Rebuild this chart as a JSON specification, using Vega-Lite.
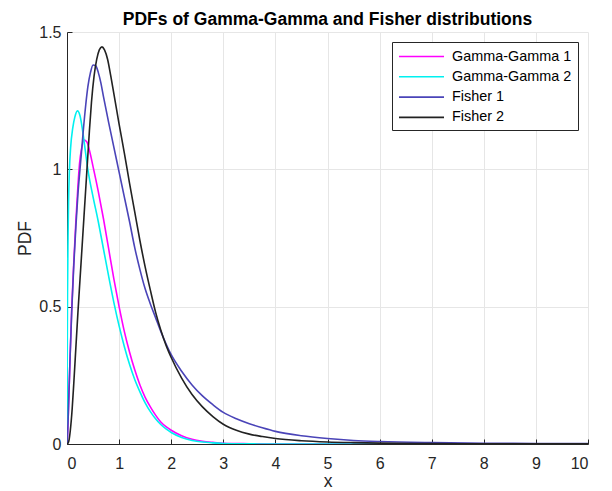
{
  "$schema": "https://vega.github.io/schema/vega-lite/v6.json",
  "width": 521,
  "height": 412,
  "autosize": {"type": "none"},
  "padding": {"left": 67, "top": 32, "right": 24, "bottom": 47},
  "background": "white",
  "title": {
    "text": "PDFs of Gamma-Gamma and Fisher distributions",
    "font": "Liberation Sans",
    "fontSize": 17.5,
    "fontWeight": "bold",
    "color": "#000000",
    "anchor": "middle",
    "offset": -4
  },
  "config": {
    "view": {"stroke": null},
    "font": "Liberation Sans",
    "axis": {
      "labelFont": "Liberation Sans",
      "labelFontSize": 16,
      "labelColor": "#262626",
      "titleFont": "Liberation Sans",
      "titleFontSize": 17.5,
      "titleFontWeight": "normal",
      "titleColor": "#262626",
      "domainColor": "#262626",
      "tickColor": "#262626",
      "tickSize": -5,
      "gridColor": "#e6e6e6",
      "gridWidth": 1
    },
    "legend": {
      "title": null,
      "orient": "top-right",
      "offset": 10,
      "symbolType": "M-1,0H5",
      "symbolSize": 225,
      "labelFont": "Liberation Sans",
      "labelFontSize": 14.4,
      "labelColor": "#000000",
      "labelOffset": 37,
      "rowPadding": 5.3,
      "padding": 6,
      "strokeColor": "#262626",
      "fillColor": "#ffffff"
    }
  },
  "data": {
    "values": [
      {"series": "Gamma-Gamma 1", "x": 0, "pdf": 0},
      {"series": "Gamma-Gamma 1", "x": 0.01, "pdf": 0.03},
      {"series": "Gamma-Gamma 1", "x": 0.02, "pdf": 0.08},
      {"series": "Gamma-Gamma 1", "x": 0.03, "pdf": 0.14},
      {"series": "Gamma-Gamma 1", "x": 0.045, "pdf": 0.23},
      {"series": "Gamma-Gamma 1", "x": 0.06, "pdf": 0.32},
      {"series": "Gamma-Gamma 1", "x": 0.09, "pdf": 0.49},
      {"series": "Gamma-Gamma 1", "x": 0.13, "pdf": 0.66},
      {"series": "Gamma-Gamma 1", "x": 0.17, "pdf": 0.81},
      {"series": "Gamma-Gamma 1", "x": 0.21, "pdf": 0.94},
      {"series": "Gamma-Gamma 1", "x": 0.24, "pdf": 1.02},
      {"series": "Gamma-Gamma 1", "x": 0.28, "pdf": 1.075},
      {"series": "Gamma-Gamma 1", "x": 0.33, "pdf": 1.107},
      {"series": "Gamma-Gamma 1", "x": 0.38, "pdf": 1.1},
      {"series": "Gamma-Gamma 1", "x": 0.43, "pdf": 1.07},
      {"series": "Gamma-Gamma 1", "x": 0.5, "pdf": 1.01},
      {"series": "Gamma-Gamma 1", "x": 0.6, "pdf": 0.92},
      {"series": "Gamma-Gamma 1", "x": 0.7, "pdf": 0.82},
      {"series": "Gamma-Gamma 1", "x": 0.8, "pdf": 0.71},
      {"series": "Gamma-Gamma 1", "x": 0.9, "pdf": 0.6},
      {"series": "Gamma-Gamma 1", "x": 1.0, "pdf": 0.5},
      {"series": "Gamma-Gamma 1", "x": 1.1, "pdf": 0.41},
      {"series": "Gamma-Gamma 1", "x": 1.2, "pdf": 0.335},
      {"series": "Gamma-Gamma 1", "x": 1.3, "pdf": 0.27},
      {"series": "Gamma-Gamma 1", "x": 1.4, "pdf": 0.215},
      {"series": "Gamma-Gamma 1", "x": 1.5, "pdf": 0.17},
      {"series": "Gamma-Gamma 1", "x": 1.6, "pdf": 0.135},
      {"series": "Gamma-Gamma 1", "x": 1.7, "pdf": 0.105},
      {"series": "Gamma-Gamma 1", "x": 1.8, "pdf": 0.08},
      {"series": "Gamma-Gamma 1", "x": 1.9, "pdf": 0.063},
      {"series": "Gamma-Gamma 1", "x": 2.0, "pdf": 0.05},
      {"series": "Gamma-Gamma 1", "x": 2.2, "pdf": 0.03},
      {"series": "Gamma-Gamma 1", "x": 2.4, "pdf": 0.017},
      {"series": "Gamma-Gamma 1", "x": 2.6, "pdf": 0.01},
      {"series": "Gamma-Gamma 1", "x": 2.8, "pdf": 0.006},
      {"series": "Gamma-Gamma 1", "x": 3.0, "pdf": 0.003},
      {"series": "Gamma-Gamma 1", "x": 3.5, "pdf": 0.001},
      {"series": "Gamma-Gamma 1", "x": 4.0, "pdf": 0},
      {"series": "Gamma-Gamma 1", "x": 6.0, "pdf": 0},
      {"series": "Gamma-Gamma 1", "x": 10.0, "pdf": 0},

      {"series": "Gamma-Gamma 2", "x": 0, "pdf": 0},
      {"series": "Gamma-Gamma 2", "x": 0.004, "pdf": 0.3},
      {"series": "Gamma-Gamma 2", "x": 0.01, "pdf": 0.55},
      {"series": "Gamma-Gamma 2", "x": 0.02, "pdf": 0.75},
      {"series": "Gamma-Gamma 2", "x": 0.03, "pdf": 0.88},
      {"series": "Gamma-Gamma 2", "x": 0.045, "pdf": 0.99},
      {"series": "Gamma-Gamma 2", "x": 0.07, "pdf": 1.08},
      {"series": "Gamma-Gamma 2", "x": 0.11, "pdf": 1.15},
      {"series": "Gamma-Gamma 2", "x": 0.15, "pdf": 1.19},
      {"series": "Gamma-Gamma 2", "x": 0.2, "pdf": 1.213},
      {"series": "Gamma-Gamma 2", "x": 0.25, "pdf": 1.195},
      {"series": "Gamma-Gamma 2", "x": 0.3, "pdf": 1.14},
      {"series": "Gamma-Gamma 2", "x": 0.35, "pdf": 1.07},
      {"series": "Gamma-Gamma 2", "x": 0.4, "pdf": 1.0},
      {"series": "Gamma-Gamma 2", "x": 0.5, "pdf": 0.9},
      {"series": "Gamma-Gamma 2", "x": 0.6, "pdf": 0.81},
      {"series": "Gamma-Gamma 2", "x": 0.7, "pdf": 0.71},
      {"series": "Gamma-Gamma 2", "x": 0.8, "pdf": 0.61},
      {"series": "Gamma-Gamma 2", "x": 0.9, "pdf": 0.515},
      {"series": "Gamma-Gamma 2", "x": 1.0, "pdf": 0.43},
      {"series": "Gamma-Gamma 2", "x": 1.1, "pdf": 0.355},
      {"series": "Gamma-Gamma 2", "x": 1.2, "pdf": 0.29},
      {"series": "Gamma-Gamma 2", "x": 1.3, "pdf": 0.235},
      {"series": "Gamma-Gamma 2", "x": 1.4, "pdf": 0.19},
      {"series": "Gamma-Gamma 2", "x": 1.5, "pdf": 0.15},
      {"series": "Gamma-Gamma 2", "x": 1.6, "pdf": 0.118},
      {"series": "Gamma-Gamma 2", "x": 1.7, "pdf": 0.092},
      {"series": "Gamma-Gamma 2", "x": 1.8, "pdf": 0.071},
      {"series": "Gamma-Gamma 2", "x": 1.9, "pdf": 0.055},
      {"series": "Gamma-Gamma 2", "x": 2.0, "pdf": 0.042},
      {"series": "Gamma-Gamma 2", "x": 2.2, "pdf": 0.024},
      {"series": "Gamma-Gamma 2", "x": 2.4, "pdf": 0.013},
      {"series": "Gamma-Gamma 2", "x": 2.6, "pdf": 0.007},
      {"series": "Gamma-Gamma 2", "x": 2.8, "pdf": 0.004},
      {"series": "Gamma-Gamma 2", "x": 3.0, "pdf": 0.002},
      {"series": "Gamma-Gamma 2", "x": 3.5, "pdf": 0.0005},
      {"series": "Gamma-Gamma 2", "x": 4.0, "pdf": 0},
      {"series": "Gamma-Gamma 2", "x": 6.0, "pdf": 0},
      {"series": "Gamma-Gamma 2", "x": 10.0, "pdf": 0},

      {"series": "Fisher 1", "x": 0, "pdf": 0},
      {"series": "Fisher 1", "x": 0.01, "pdf": 0.03},
      {"series": "Fisher 1", "x": 0.02, "pdf": 0.08},
      {"series": "Fisher 1", "x": 0.03, "pdf": 0.14},
      {"series": "Fisher 1", "x": 0.045, "pdf": 0.23},
      {"series": "Fisher 1", "x": 0.06, "pdf": 0.32},
      {"series": "Fisher 1", "x": 0.09, "pdf": 0.48},
      {"series": "Fisher 1", "x": 0.13, "pdf": 0.65},
      {"series": "Fisher 1", "x": 0.17, "pdf": 0.79},
      {"series": "Fisher 1", "x": 0.21, "pdf": 0.91},
      {"series": "Fisher 1", "x": 0.24, "pdf": 0.98},
      {"series": "Fisher 1", "x": 0.27, "pdf": 1.045},
      {"series": "Fisher 1", "x": 0.31, "pdf": 1.135},
      {"series": "Fisher 1", "x": 0.36, "pdf": 1.235},
      {"series": "Fisher 1", "x": 0.4, "pdf": 1.3},
      {"series": "Fisher 1", "x": 0.45, "pdf": 1.352},
      {"series": "Fisher 1", "x": 0.5, "pdf": 1.38},
      {"series": "Fisher 1", "x": 0.55, "pdf": 1.377},
      {"series": "Fisher 1", "x": 0.6, "pdf": 1.353},
      {"series": "Fisher 1", "x": 0.65, "pdf": 1.315},
      {"series": "Fisher 1", "x": 0.7, "pdf": 1.265},
      {"series": "Fisher 1", "x": 0.8, "pdf": 1.17},
      {"series": "Fisher 1", "x": 0.9, "pdf": 1.08},
      {"series": "Fisher 1", "x": 1.0, "pdf": 0.99},
      {"series": "Fisher 1", "x": 1.1, "pdf": 0.9},
      {"series": "Fisher 1", "x": 1.2, "pdf": 0.81},
      {"series": "Fisher 1", "x": 1.3, "pdf": 0.715},
      {"series": "Fisher 1", "x": 1.4, "pdf": 0.635},
      {"series": "Fisher 1", "x": 1.5, "pdf": 0.565},
      {"series": "Fisher 1", "x": 1.6, "pdf": 0.51},
      {"series": "Fisher 1", "x": 1.7, "pdf": 0.46},
      {"series": "Fisher 1", "x": 1.8, "pdf": 0.41},
      {"series": "Fisher 1", "x": 1.9, "pdf": 0.365},
      {"series": "Fisher 1", "x": 2.0, "pdf": 0.325},
      {"series": "Fisher 1", "x": 2.2, "pdf": 0.265},
      {"series": "Fisher 1", "x": 2.4, "pdf": 0.215},
      {"series": "Fisher 1", "x": 2.6, "pdf": 0.175},
      {"series": "Fisher 1", "x": 2.8, "pdf": 0.143},
      {"series": "Fisher 1", "x": 3.0, "pdf": 0.115},
      {"series": "Fisher 1", "x": 3.25, "pdf": 0.092},
      {"series": "Fisher 1", "x": 3.5, "pdf": 0.074},
      {"series": "Fisher 1", "x": 3.75, "pdf": 0.059},
      {"series": "Fisher 1", "x": 4.0, "pdf": 0.046},
      {"series": "Fisher 1", "x": 4.5, "pdf": 0.03},
      {"series": "Fisher 1", "x": 5.0, "pdf": 0.02},
      {"series": "Fisher 1", "x": 5.5, "pdf": 0.013},
      {"series": "Fisher 1", "x": 6.0, "pdf": 0.009},
      {"series": "Fisher 1", "x": 7.0, "pdf": 0.005},
      {"series": "Fisher 1", "x": 8.0, "pdf": 0.003},
      {"series": "Fisher 1", "x": 9.0, "pdf": 0.002},
      {"series": "Fisher 1", "x": 10.0, "pdf": 0.0015},

      {"series": "Fisher 2", "x": 0, "pdf": 0},
      {"series": "Fisher 2", "x": 0.02, "pdf": 0.003},
      {"series": "Fisher 2", "x": 0.04, "pdf": 0.015},
      {"series": "Fisher 2", "x": 0.064, "pdf": 0.05},
      {"series": "Fisher 2", "x": 0.1, "pdf": 0.13},
      {"series": "Fisher 2", "x": 0.13, "pdf": 0.22},
      {"series": "Fisher 2", "x": 0.17, "pdf": 0.35},
      {"series": "Fisher 2", "x": 0.21, "pdf": 0.48},
      {"series": "Fisher 2", "x": 0.25, "pdf": 0.6},
      {"series": "Fisher 2", "x": 0.3, "pdf": 0.75},
      {"series": "Fisher 2", "x": 0.35, "pdf": 0.9},
      {"series": "Fisher 2", "x": 0.39, "pdf": 1.02},
      {"series": "Fisher 2", "x": 0.43, "pdf": 1.14},
      {"series": "Fisher 2", "x": 0.47, "pdf": 1.245},
      {"series": "Fisher 2", "x": 0.52, "pdf": 1.34},
      {"series": "Fisher 2", "x": 0.57, "pdf": 1.4},
      {"series": "Fisher 2", "x": 0.62, "pdf": 1.435},
      {"series": "Fisher 2", "x": 0.67, "pdf": 1.446},
      {"series": "Fisher 2", "x": 0.72, "pdf": 1.435},
      {"series": "Fisher 2", "x": 0.78, "pdf": 1.4},
      {"series": "Fisher 2", "x": 0.84, "pdf": 1.34},
      {"series": "Fisher 2", "x": 0.9, "pdf": 1.275},
      {"series": "Fisher 2", "x": 1.0, "pdf": 1.165},
      {"series": "Fisher 2", "x": 1.1, "pdf": 1.06},
      {"series": "Fisher 2", "x": 1.2, "pdf": 0.95},
      {"series": "Fisher 2", "x": 1.3, "pdf": 0.845},
      {"series": "Fisher 2", "x": 1.4, "pdf": 0.74},
      {"series": "Fisher 2", "x": 1.5, "pdf": 0.645},
      {"series": "Fisher 2", "x": 1.6, "pdf": 0.56},
      {"series": "Fisher 2", "x": 1.7, "pdf": 0.48},
      {"series": "Fisher 2", "x": 1.8, "pdf": 0.415},
      {"series": "Fisher 2", "x": 1.9, "pdf": 0.36},
      {"series": "Fisher 2", "x": 2.0, "pdf": 0.315},
      {"series": "Fisher 2", "x": 2.2, "pdf": 0.24},
      {"series": "Fisher 2", "x": 2.4, "pdf": 0.18},
      {"series": "Fisher 2", "x": 2.6, "pdf": 0.135},
      {"series": "Fisher 2", "x": 2.8, "pdf": 0.1},
      {"series": "Fisher 2", "x": 3.0, "pdf": 0.072},
      {"series": "Fisher 2", "x": 3.25, "pdf": 0.05},
      {"series": "Fisher 2", "x": 3.5, "pdf": 0.036},
      {"series": "Fisher 2", "x": 3.75, "pdf": 0.027},
      {"series": "Fisher 2", "x": 4.0, "pdf": 0.02},
      {"series": "Fisher 2", "x": 4.5, "pdf": 0.012},
      {"series": "Fisher 2", "x": 5.0, "pdf": 0.0075},
      {"series": "Fisher 2", "x": 5.5, "pdf": 0.005},
      {"series": "Fisher 2", "x": 6.0, "pdf": 0.0033},
      {"series": "Fisher 2", "x": 7.0, "pdf": 0.0016},
      {"series": "Fisher 2", "x": 8.0, "pdf": 0.0009},
      {"series": "Fisher 2", "x": 9.0, "pdf": 0.0005},
      {"series": "Fisher 2", "x": 10.0, "pdf": 0.0003}
    ]
  },
  "mark": {"type": "line", "interpolate": "monotone", "clip": true},
  "encoding": {
    "x": {
      "field": "x",
      "type": "quantitative",
      "title": "x",
      "scale": {"domain": [0, 10], "nice": false, "zero": false},
      "axis": {
        "values": [0, 1, 2, 3, 4, 5, 6, 7, 8, 9, 10],
        "format": "~r",
        "labelPadding": 16,
        "titlePadding": 1
      }
    },
    "y": {
      "field": "pdf",
      "type": "quantitative",
      "title": "PDF",
      "scale": {"domain": [0, 1.5], "nice": false},
      "axis": {
        "values": [0, 0.5, 1, 1.5],
        "format": "~r",
        "labelPadding": 11,
        "titlePadding": 4
      }
    },
    "color": {
      "field": "series",
      "type": "nominal",
      "sort": ["Gamma-Gamma 1", "Gamma-Gamma 2", "Fisher 1", "Fisher 2"],
      "scale": {
        "domain": ["Gamma-Gamma 1", "Gamma-Gamma 2", "Fisher 1", "Fisher 2"],
        "range": ["#ff00ff", "#00f0f0", "#4a44b8", "#222222"]
      }
    },
    "strokeWidth": {
      "field": "series",
      "type": "nominal",
      "sort": ["Gamma-Gamma 1", "Gamma-Gamma 2", "Fisher 1", "Fisher 2"],
      "scale": {
        "domain": ["Gamma-Gamma 1", "Gamma-Gamma 2", "Fisher 1", "Fisher 2"],
        "range": [1.6, 1.6, 0.9, 0.7]
      }
    }
  }
}
